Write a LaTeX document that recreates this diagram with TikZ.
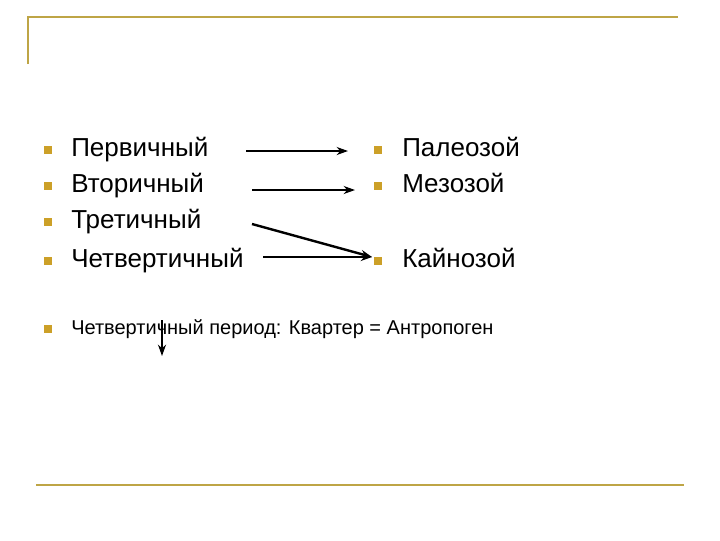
\documentclass[tikz,border=0pt]{standalone}
\usepackage{fontspec}
\setmainfont{Liberation Sans}
\usetikzlibrary{arrows.meta}
\definecolor{rule}{RGB}{190,165,70}
\definecolor{bul}{RGB}{204,160,40}
\tikzset{
  big/.style={font=\fontsize{19.5}{22}\selectfont, anchor=base west, inner sep=0pt},
  small/.style={font=\fontsize{15}{17}\selectfont, anchor=base west, inner sep=0pt},
  bulletbox/.style={fill=bul, minimum size=6pt, inner sep=0pt, draw=none},
  arr/.style={-{Stealth[length=8.5pt,width=6pt]}, line width=1.8pt},
  rl/.style={draw=rule, line width=2pt}
}
\begin{document}
\begin{tikzpicture}[x=0.75pt,y=-0.75pt]
\useasboundingbox (0,0) rectangle (720,540);
\draw[rl] (28,64) -- (28,17) -- (678,17);
\draw[rl] (36,485) -- (684,485);
% left column
\node[bulletbox] (b1) at (48,150) {};
\node[bulletbox] (b2) at (48,186) {};
\node[bulletbox] (b3) at (48,222) {};
\node[bulletbox] (b4) at (48,261) {};
\node[big] (t1) at (71,156) {Первичный};
\node[big] (t2) at (71,192) {Вторичный};
\node[big] (t3) at (71,228) {Третичный};
\node[big] (t4) at (71,267) {Четвертичный};
% right column
\node[bulletbox] (r1) at (378,150) {};
\node[bulletbox] (r2) at (378,186) {};
\node[bulletbox] (r4) at (378,261) {};
\node[big] (p1) at (402,156) {Палеозой};
\node[big] (p2) at (402,192) {Мезозой};
\node[big] (p4) at (402,267) {Кайнозой};
% bottom line
\node[bulletbox] (b5) at (48,329) {};
\node[small] (t5) at (71,334) {Четвертичный период: Квартер = Антропоген};
% arrows
\coordinate (a1s) at (246,151); \coordinate (a1e) at (348,151);
\coordinate (a2s) at (252,190); \coordinate (a2e) at (355,190);
\coordinate (a3s) at (252,224); \coordinate (a3e) at (372,257);
\coordinate (a4s) at (263,257); \coordinate (a4e) at (372,257);
\coordinate (a5s) at (162,320); \coordinate (a5e) at (162,356);
\draw[arr] (a1s) -- (a1e);
\draw[arr] (a2s) -- (a2e);
\draw[arr] (a3s) -- (a3e);
\draw[arr] (a4s) -- (a4e);
\draw[arr] (a5s) -- (a5e);
\end{tikzpicture}
\end{document}
